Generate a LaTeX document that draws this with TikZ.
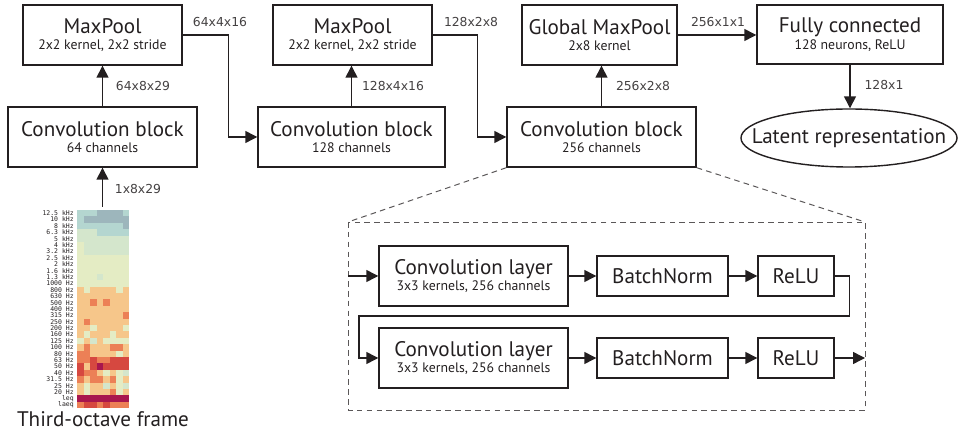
\documentclass[tikz,border=0pt]{standalone}
\usepackage{fontspec}
\setmainfont{PT Sans}
\newfontfamily\dimfont{DejaVu Sans}
\newfontfamily\freqfont{DejaVu Sans Mono}
\usetikzlibrary{arrows.meta,shapes.geometric}
\definecolor{ink}{HTML}{231F20}
\definecolor{hm1}{HTML}{9DB6BC}
\definecolor{hm2}{HTML}{B4D6D0}
\definecolor{hm3}{HTML}{D4E6CC}
\definecolor{hm4}{HTML}{E4ECC4}
\definecolor{hm5}{HTML}{F6C68A}
\definecolor{hm6}{HTML}{EC8056}
\definecolor{hm7}{HTML}{D64840}
\definecolor{hm8}{HTML}{A8164E}
\newcommand{\ttl}[1]{{\fontsize{15}{15}\selectfont #1}}

\begin{document}
\begin{tikzpicture}[x=0.025cm, y=-0.025cm,
        every node/.style={text=ink},
        blk/.style={draw=ink, line width=1pt, inner sep=0pt, align=center, minimum height=1.5cm, font=\fontsize{9.8}{11.6}\selectfont},
        lyr/.style={draw=ink, line width=1pt, inner sep=0pt, minimum height=1cm, font=\fontsize{15}{15}\selectfont},
        dim/.style={font=\dimfont\fontsize{8.8}{8.8}\selectfont, text=ink!85},
        arr/.style={draw=ink, line width=1pt, -{Triangle[length=8.5pt,width=8.5pt]}},
        zoomline/.style={draw=ink!75, line width=0.7pt, dash pattern=on 4pt off 3pt},
        freq/.style={font=\freqfont\fontsize{4.6}{4.6}\selectfont, anchor=east, inner sep=0pt}]
                \useasboundingbox (0,0) rectangle (960,438);
                \def\cw{6.5}
                \def\ch{6.39}

                \foreach \row [count=\r from 0] in {{2,2,2,1,1,1,1,2},{2,1,1,1,1,1,1,1},{2,2,2,2,2,2,2,1},{3,3,3,2,2,2,2,2},
                        {3,3,3,3,3,3,3,3},{4,3,3,3,3,3,3,3},{4,3,3,3,3,3,3,3},{4,4,4,4,4,4,4,4},{4,4,4,4,4,4,4,4},
                        {4,4,4,4,4,4,4,4},{4,4,4,3,4,4,4,4},{4,4,4,4,4,4,4,4},{5,4,5,5,5,5,4,5},{5,5,5,5,5,5,5,5},
                        {5,5,6,5,6,5,5,5},{5,5,5,5,5,5,5,5},{5,5,5,5,5,5,5,6},{5,6,5,5,5,5,5,5},{5,5,4,5,5,5,5,4},
                        {5,4,5,5,5,4,5,5},{4,5,3,5,4,4,4,4},{5,6,5,5,5,6,6,5},{6,6,5,5,5,5,4,5},{6,6,7,6,6,7,7,7},
                        {7,5,7,8,7,7,7,7},{7,6,6,5,4,5,4,3},{6,5,6,6,5,6,4,5},{5,4,5,5,3,5,4,3},{5,4,5,5,5,6,4,5},
                        {8,8,8,8,8,8,8,8},{6,7,7,6,7,6,6,6}} {
                    \foreach \c [count=\k from 0] in \row
                        \fill[hm\c] (77+\k*\cw, 210+\r*\ch) rectangle ++(\cw+0.1, \ch+0.1);
                }
                \foreach \lab [count=\r from 0] in {12.5 kHz,10 kHz,8 kHz,6.3 kHz,5 kHz,4 kHz,3.2 kHz,2.5 kHz,2 kHz,1.6 kHz,1.3 kHz,
                        1000 Hz,800 Hz,630 Hz,500 Hz,400 Hz,315 Hz,250 Hz,200 Hz,160 Hz,125 Hz,100 Hz,80 Hz,63 Hz,
                        50 Hz,40 Hz,31.5 Hz,25 Hz,20 Hz,leq,laeq}
                    \node[freq] (f\r) at (74, 210+\r*\ch+3.2) {\lab};
                \node[anchor=base, font=\fontsize{15}{15}\selectfont] (frame) at (103,427) {Third-octave frame};

                \node[blk, minimum width=4.725cm] (conv1) at (102.5,137) {\ttl{Convolution block}\\64 channels};
                \node[blk, minimum width=3.975cm] (pool1) at (102.5,35) {\ttl{MaxPool}\\2x2 kernel, 2x2 stride};
                \node[blk, minimum width=4.675cm] (conv2) at (351.5,137) {\ttl{Convolution block}\\128 channels};
                \node[blk, minimum width=3.975cm] (pool2) at (352.5,35) {\ttl{MaxPool}\\2x2 kernel, 2x2 stride};
                \node[blk, minimum width=4.725cm] (conv3) at (601.5,137) {\ttl{Convolution block}\\256 channels};
                \node[blk, minimum width=3.875cm] (gpool) at (599.5,35) {\ttl{Global MaxPool}\\2x8 kernel};
                \node[blk, minimum width=4.65cm, minimum height=1.475cm] (fc) at (850,34.5) {\ttl{Fully connected}\\128 neurons, ReLU};
                \node[ellipse, draw=ink, line width=1pt, inner sep=0pt, minimum width=5.4cm, minimum height=1.45cm,
                    font=\fontsize{15}{15}\selectfont] (latent) at (849,138) {\makebox[0pt]{Latent representation}};

                \coordinate (hmtop) at (102.5,207);
                \draw[arr] (hmtop) -- (conv1.south);
                \draw[arr] (conv1.north) -- (pool1.south);
                \draw[arr] (pool1.east) -- ++(46,0) |- (conv2.west);
                \draw[arr] (conv2.north) -- (conv2.north |- pool2.south);
                \draw[arr] (pool2.east) -- ++(45,0) |- (conv3.west);
                \draw[arr] (conv3.north) -- (conv3.north |- gpool.south);
                \draw[arr] (gpool.east) -- (gpool.east -| fc.west);
                \draw[arr] (fc.south) -- (fc.south |- latent.north);

                \node[dim] (d1) at (138,189) {1x8x29};
                \node[dim] (d2) at (143,86) {64x8x29};
                \node[dim] (d3) at (220,22) {64x4x16};
                \node[dim] (d4) at (393,86) {128x4x16};
                \node[dim] (d5) at (471,22) {128x2x8};
                \node[dim] (d6) at (643,86) {256x2x8};
                \node[dim] (d7) at (718,22) {256x1x1};
                \node[dim] (d8) at (884,85) {128x1};

                \coordinate (dtl) at (348,222);
                \coordinate (dtr) at (865,222);
                \coordinate (dbr) at (865,410);
                \draw[zoomline] (dtl) rectangle (dbr);
                \draw[zoomline] (conv3.south west) -- (dtl);
                \draw[zoomline] (conv3.south east) -- (dtr);

                \node[blk, minimum width=4.725cm] (cl1) at (473.5,276) {\ttl{Convolution layer}\\3x3 kernels, 256 channels};
                \node[lyr, minimum width=3.275cm] (bn1) at (662.5,276) {BatchNorm};
                \node[lyr, minimum width=1.9cm] (relu1) at (796,276) {ReLU};
                \node[blk, minimum width=4.725cm] (cl2) at (473.5,358) {\ttl{Convolution layer}\\3x3 kernels, 256 channels};
                \node[lyr, minimum width=3.275cm] (bn2) at (662.5,358) {BatchNorm};
                \node[lyr, minimum width=1.9cm] (relu2) at (796,358) {ReLU};

                \coordinate (in) at (348,276);
                \coordinate (ret) at (359,316);
                \coordinate (out) at (865,358);
                \draw[arr] (in) -- (cl1);
                \draw[arr] (cl1) -- (bn1);
                \draw[arr] (bn1) -- (relu1);
                \draw[arr] (relu1.east) -- ++(15,0) |- (ret) |- (cl2.west);
                \draw[arr] (cl2) -- (bn2);
                \draw[arr] (bn2) -- (relu2);
                \draw[arr] (relu2) -- (out);
            \end{tikzpicture}
\end{document}
